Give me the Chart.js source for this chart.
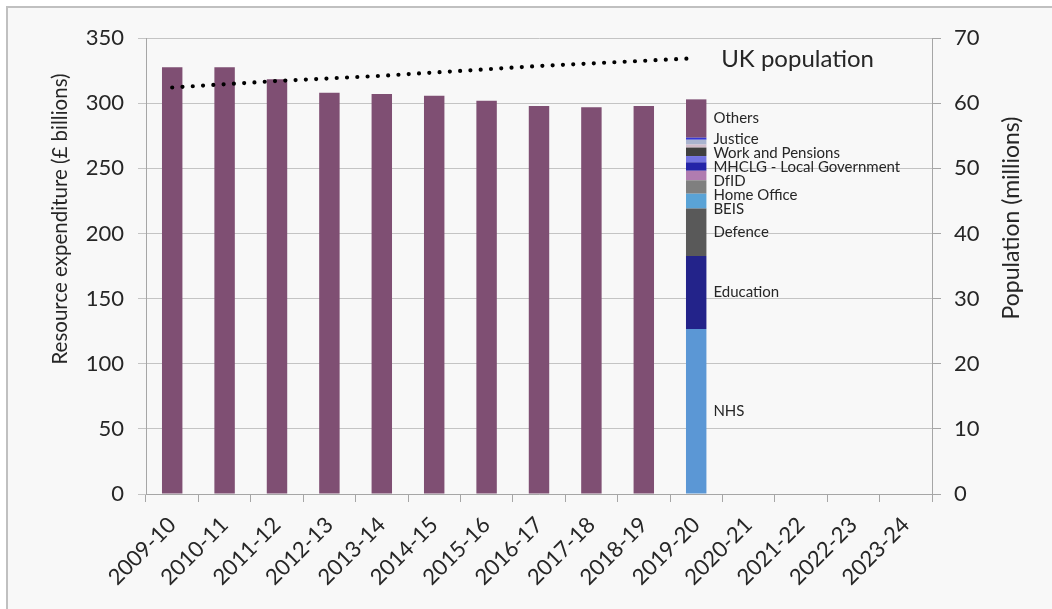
<!DOCTYPE html>
<html>
<head>
<meta charset="utf-8">
<script src="https://cdn.jsdelivr.net/npm/chart.js@4/dist/chart.umd.min.js"></script>
<style>
  html, body { margin: 0; padding: 0; background: #ffffff; overflow: hidden; }
  #wrap { width: 1052px; height: 609px; position: relative; }
</style>
</head>
<body>
<div id="wrap"><canvas id="c" width="1052" height="609"></canvas></div>
<script>
// ---- data ----
const categories = ['2009-10','2010-11','2011-12','2012-13','2013-14','2014-15','2015-16','2016-17','2017-18','2018-19','2019-20','2020-21','2021-22','2022-23','2023-24'];
const totalSpend = [327.5, 327.5, 318.3, 308.0, 307.0, 305.7, 301.9, 297.8, 296.8, 297.8, null, null, null, null, null];
const deptNames  = ['NHS','Education','Defence','BEIS','Home Office','DfID','MHCLG - Local Government','','Work and Pensions','','','Justice','Others'];
const dept2019   = [126.6, 56.1, 36.4, 11.4, 10.3, 7.3, 6.5, 4.8, 6.5, 2.3, 3.7, 1.6, 29.4];
const population = [62.4, 62.9, 63.4, 63.8, 64.2, 64.7, 65.2, 65.7, 66.1, 66.5, 66.9, null, null, null, null];
const leftTicks  = [0, 50, 100, 150, 200, 250, 300, 350];
const rightTicks = [0, 10, 20, 30, 40, 50, 60, 70];

// ---- styles ----
const deptColors = ['#5b97d5','#23238a','#595959','#5aa3d6','#7f7f7f','#b07cb0','#2424a8','#7272e0','#404040','#d2bccb','#aab4cf','#3535d5','#7f4f73'];
const purple = '#7f4f73';
const FONT = 'Lato, "Open Sans", sans-serif';
const TXT = '#262626';

const yearIdx = categories.indexOf('2019-20');

const datasets = [{
  type: 'bar', label: 'Total', data: totalSpend, backgroundColor: purple,
  yAxisID: 'y', stack: 's', order: 1, categoryPercentage: 1, barPercentage: 0.39
}];
deptNames.forEach((n, i) => {
  const d = categories.map((c, k) => k === yearIdx ? dept2019[i] : null);
  datasets.push({
    type: 'bar', label: n || ('other' + i), data: d, backgroundColor: deptColors[i],
    yAxisID: 'y', stack: 's', order: 1, categoryPercentage: 1, barPercentage: 0.39,
    _segName: n
  });
});
datasets.push({
  type: 'line', label: 'UK population', data: population, yAxisID: 'y1', order: 0,
  borderColor: '#000', borderWidth: 4.2, borderDash: [0, 10.3], borderCapStyle: 'round',
  pointRadius: 0, fill: false, tension: 0, spanGaps: false
});

const framePlugin = {
  id: 'frame',
  beforeDraw(chart) {
    const ctx = chart.ctx;
    ctx.save();
    ctx.fillStyle = '#ffffff';
    ctx.fillRect(0, 0, 1052, 609);
    ctx.fillStyle = '#f8f8f8';
    ctx.fillRect(7, 7, 1045, 602);
    ctx.strokeStyle = '#c0c0c0';
    ctx.lineWidth = 2;
    ctx.beginPath();
    ctx.moveTo(7, 609); ctx.lineTo(7, 7); ctx.lineTo(1052, 7);
    ctx.stroke();
    ctx.restore();
  }
};

const labelPlugin = {
  id: 'labels',
  afterDraw(chart) {
    const ctx = chart.ctx;
    ctx.save();
    ctx.fillStyle = TXT;
    // axis titles
    ctx.textAlign = 'center'; ctx.textBaseline = 'middle';
    ctx.font = '20.5px ' + FONT;
    ctx.save(); ctx.translate(60, 219); ctx.rotate(-Math.PI / 2);
    ctx.fillText('Resource expenditure (£ billions)', 0, 0); ctx.restore();
    ctx.font = '23px ' + FONT;
    ctx.save(); ctx.translate(1012, 218); ctx.rotate(-Math.PI / 2);
    ctx.fillText('Population (millions)', 0, 0); ctx.restore();

    // segment labels
    const segs = [];
    chart.data.datasets.forEach((ds, di) => {
      if (!ds._segName) return;
      const el = chart.getDatasetMeta(di).data[yearIdx];
      if (!el) return;
      segs.push({ name: ds._segName, mid: (el.y + el.base) / 2, x: el.x + el.width / 2 + 7 });
    });
    segs.sort((a, b) => a.mid - b.mid);
    let prev = -1e9;
    ctx.font = '15px ' + FONT;
    ctx.textAlign = 'left';
    segs.forEach(s => {
      const y = Math.max(s.mid, prev + 14);
      prev = y;
      ctx.fillText(s.name, s.x, y);
    });

    // UK population label
    const lm = chart.getDatasetMeta(chart.data.datasets.length - 1);
    const lastPt = lm.data[yearIdx];
    ctx.font = '24px ' + FONT;
    ctx.textAlign = 'left'; ctx.textBaseline = 'middle';
    ctx.fillText('UK population', lastPt.x + 25, lastPt.y + 1);
    ctx.restore();
  }
};

new Chart(document.getElementById('c'), {
  data: { labels: categories, datasets },
  options: {
    responsive: false, animation: false,
    layout: { padding: { top: 38, left: 0, right: 0, bottom: 0 } },
    plugins: { legend: { display: false }, tooltip: { enabled: false } },
    scales: {
      x: {
        stacked: true, offset: true,
        grid: { offset: true, drawOnChartArea: false, tickLength: 8, color: '#a6a6a6' },
        border: { color: '#a6a6a6' },
        ticks: { minRotation: 45, maxRotation: 45, padding: 10, color: TXT, font: { family: FONT, size: 22 } },
        afterFit(s) { s.height = 115; }
      },
      y: {
        stacked: true, min: 0, max: 350, position: 'left',
        afterBuildTicks(s) { s.ticks = leftTicks.map(v => ({ value: v })); },
        grid: { color: '#c4c4c4', tickLength: 8 },
        border: { color: '#a6a6a6' },
        ticks: { padding: 14, color: TXT, font: { family: FONT, size: 22 } },
        afterFit(s) { s.width = 146; }
      },
      y1: {
        stacked: false, min: 0, max: 70, position: 'right',
        afterBuildTicks(s) { s.ticks = rightTicks.map(v => ({ value: v })); },
        grid: { drawOnChartArea: false, tickLength: 9, color: '#a6a6a6' },
        border: { color: '#a6a6a6' },
        ticks: { padding: 13, color: TXT, font: { family: FONT, size: 22 } },
        afterFit(s) { s.width = 120; }
      }
    }
  },
  plugins: [framePlugin, labelPlugin]
});
</script>
</body>
</html>
